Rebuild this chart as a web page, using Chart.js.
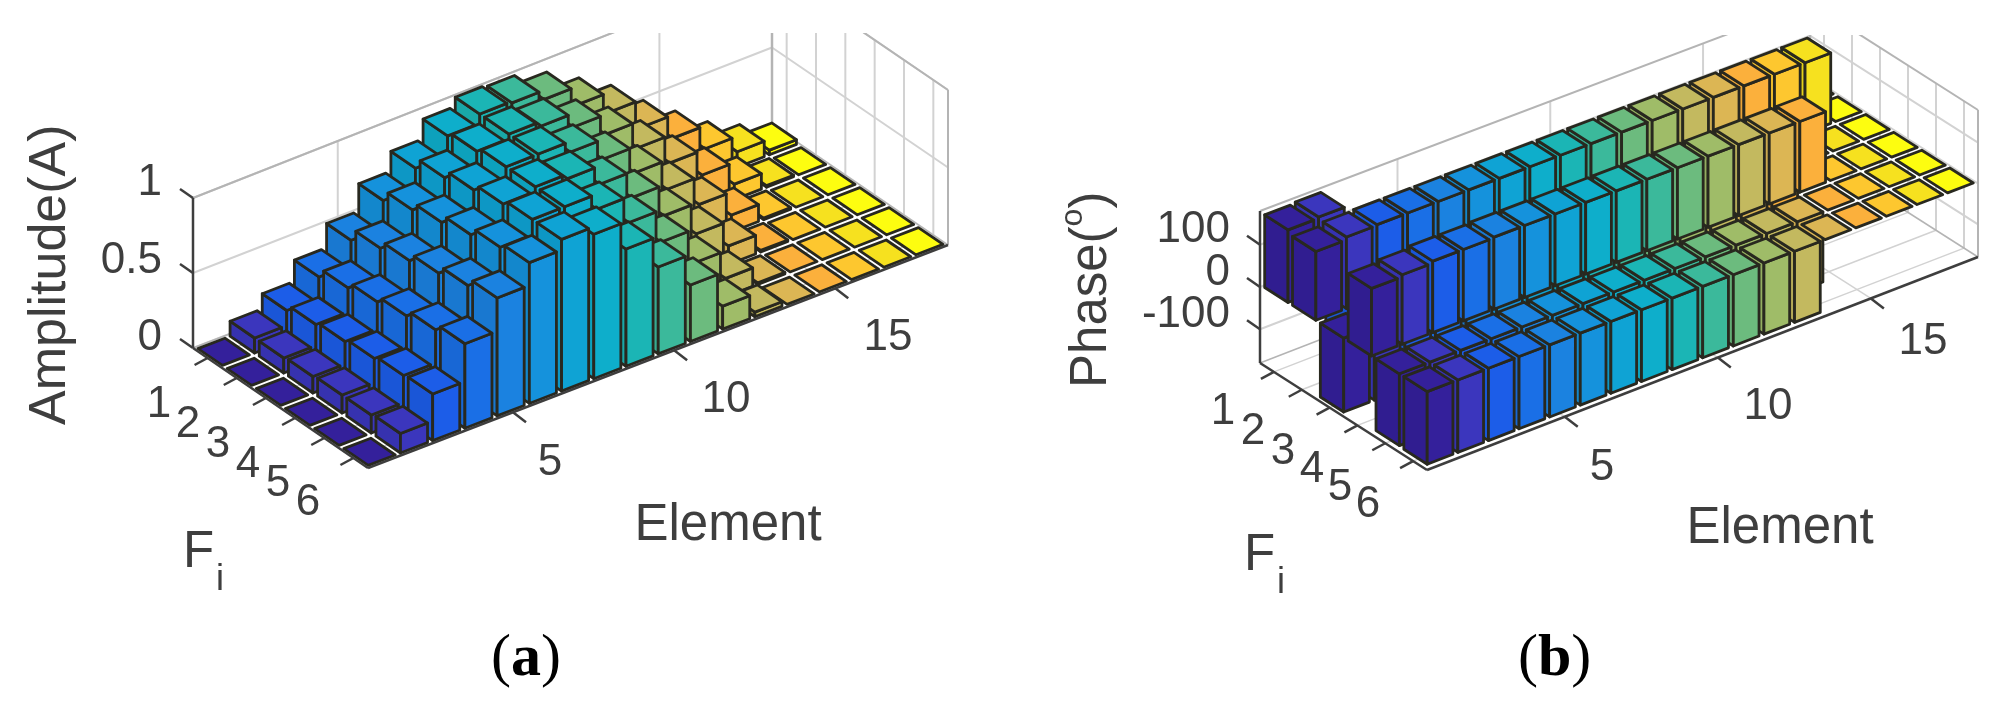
<!DOCTYPE html>
<html><head><meta charset="utf-8">
<script src="https://cdn.jsdelivr.net/npm/chart.js@4"></script>
<style>
html,body{margin:0;padding:0;background:#fff;width:2000px;height:710px;overflow:hidden}
canvas{position:absolute;top:0;filter:blur(.45px)}
</style></head><body>
<canvas id="a" width="1000" height="710" style="left:0"></canvas>
<canvas id="b" width="1000" height="710" style="left:1000px"></canvas>
<script>
const elements=[1,2,3,4,5,6,7,8,9,10,11,12,13,14,15,16,17,18];
const fiRows=[1,2,3,4,5,6];
const elementTicks=[5,10,15];
const ampTicks=[0,0.5,1];
const phaseTicks=[-100,0,100];
const ampF1=[0,.10,.20,.34,.50,.68,.81,.94,1,.99,.93,.81,.68,.50,.35,.20,.10,.03];
const ampF2=[0,.10,.24,.40,.58,.75,.88,.97,1,.97,.88,.75,.58,.40,.24,.10,.01,0];
const ampF3=[0,.11,.26,.44,.63,.80,.93,1,1,.93,.80,.63,.44,.26,.11,.01,0,0];
const ampF4=[0,.12,.28,.48,.68,.85,.97,1,.97,.85,.68,.48,.28,.12,.01,0,0,0];
const ampF5=[0,.12,.30,.52,.73,.90,1,1,.90,.73,.52,.30,.12,.01,0,0,0,0];
const ampF6=[0,.13,.31,.56,.78,.93,1,.95,.77,.57,.37,.15,.03,0,0,0,0,0];
const phaseF1=[172,175,-170,-170,-170,-170,-170,-170,-170,-170,-170,-170,-170,-170,-170,-170,-170,0];
const phaseF2=[163,170,172,172,172,172,172,172,172,172,172,172,172,172,172,172,172,0];
const phaseF3=[-175,-175,-175,-175,-175,-175,-175,-175,-175,-175,-175,-175,-175,-175,-175,0,0,0];
const phaseF4=[160,165,170,170,172,172,172,172,172,172,172,172,172,172,172,0,0,0];
const phaseF5=[-170,-170,-170,-170,-170,-170,-170,-170,-170,-170,-170,-170,-170,-170,0,0,0,0];
const phaseF6=[-172,-172,-172,-172,-172,-172,-172,-172,-172,-172,-172,-172,-172,0,0,0,0,0];
const palette=['#34209b','#3b36bd','#1c5de8','#1a6fe6','#1b82e0','#1592dc','#0fa3d4','#0eaecb','#1bb5b5','#3bb99b','#6cbb7e','#9fbc68','#c3b95f','#dcb654','#fbb03c','#fdc72f','#f6e11f','#fdfd10'];

const INK='#3e3e3e', EDGE='#28281f', GRID='#d2d2d2', BOX='#b4b4b4';
const sans='"Liberation Sans"', serif='"Liberation Serif"';

function bars3d(opts){return {id:'bars3d',afterDatasetsDraw(chart){
  const c=chart.ctx,s=chart.scales,g=opts.geo,ox=opts.offset;
  const dx=v=>(s.x.getPixelForValue(v)-s.x.left)/s.x.width;
  const df=v=>(s.fi.bottom-s.fi.getPixelForValue(v))/s.fi.height;
  const dz=v=>(s.y.bottom-s.y.getPixelForValue(v))/s.y.height;
  const L=(a,b,t)=>a+(b-a)*t;
  const P=(e,f,z)=>{const u=dx(e),v=df(f),w=dz(z);
    const X=L(L(g.BL[0],g.BR[0],u),L(g.FL[0],g.FR[0],u),v);
    const Y=L(L(g.BL[1],g.BR[1],u),L(g.FL[1],g.FR[1],u),v);
    return [X-ox,Y-w*L(g.HL,g.HR,u)];};
  const line=(p,q,col,lw)=>{c.strokeStyle=col;c.lineWidth=lw;c.beginPath();c.moveTo(p[0],p[1]);c.lineTo(q[0],q[1]);c.stroke();};
  const poly=(pts,col,shade)=>{c.beginPath();pts.forEach((p,i)=>i?c.lineTo(p[0],p[1]):c.moveTo(p[0],p[1]));c.closePath();
    c.fillStyle=col;c.fill();
    if(shade){c.fillStyle='rgba(0,0,0,'+shade+')';c.fill();}
    c.strokeStyle=EDGE;c.lineWidth=2.8;c.lineJoin='round';c.stroke();};
  const zmin=s.y.min,zmax=s.y.max,e0=s.x.min,e1=s.x.max,f0=s.fi.min,f1=s.fi.max;

  c.save();c.beginPath();c.rect(0,g.clipTop,1000,710);c.clip();
  // walls and floor grid
  opts.zTicks.forEach(z=>{line(P(e0,f0,z),P(e1,f0,z),GRID,2);line(P(e1,f0,z),P(e1,f1,z),GRID,2);});
  opts.eTicks.forEach(e=>{line(P(e,f0,zmin),P(e,f0,zmax),GRID,2);line(P(e,f0,zmin),P(e,f1,zmin),GRID,1.5);});
  fiRows.forEach(f=>{line(P(e1,f,zmin),P(e1,f,zmax),GRID,2);line(P(e0,f,zmin),P(e1,f,zmin),GRID,1.5);});
  line(P(e0,f0,zmax),P(e1,f0,zmax),BOX,2);
  line(P(e1,f0,zmax),P(e1,f1,zmax),BOX,2);
  line(P(e1,f0,zmin),P(e1,f0,zmax),BOX,2.5);
  line(P(e1,f1,zmin),P(e1,f1,zmax),BOX,2);
  line(P(e0,f0,zmin),P(e1,f0,zmin),BOX,1.5);
  line(P(e1,f0,zmin),P(e1,f1,zmin),BOX,1.5);
  // bars, back row first, far elements first
  const w=.42;
  chart.data.datasets.forEach(ds=>{
    const f=ds.fi;
    [...ds.data].reverse().forEach(d=>{
      const e=d.x,hi=Math.max(d.y,0),lo=Math.min(d.y,0),col=palette[e-1];
      if(hi!==lo){
        poly([P(e-w,f-w,hi),P(e-w,f+w,hi),P(e-w,f+w,lo),P(e-w,f-w,lo)],col,.07);
        poly([P(e-w,f+w,hi),P(e+w,f+w,hi),P(e+w,f+w,lo),P(e-w,f+w,lo)],col,0);
      }
      poly([P(e-w,f-w,hi),P(e+w,f-w,hi),P(e+w,f+w,hi),P(e-w,f+w,hi)],col,0);
    });
  });
  c.restore();
  // dark axes and ticks
  line(P(e0,f0,zmin),P(e0,f0,zmax),INK,2.5);
  line(P(e0,f0,zmin),P(e0,f1,zmin),INK,2.5);
  line(P(e0,f1,zmin),P(e1,f1,zmin),INK,2.5);
  opts.zTicks.forEach(z=>{const p=P(e0,f0,z);line(p,[p[0]-13,p[1]-9],INK,2.5);});
  fiRows.forEach(f=>{const p=P(e0,f,zmin);line(p,[p[0]-13,p[1]+7],INK,2.5);});
  opts.eTicks.forEach(e=>{const p=P(e,f1,zmin);line(p,[p[0]+13,p[1]+10],INK,2.5);});
  // text
  c.fillStyle=INK;c.textBaseline='alphabetic';
  const txt=(t,x,y,font,al)=>{c.font=font;c.textAlign=al||'center';c.fillText(t,x-ox,y);};
  c.textBaseline='middle';
  opts.zTicks.forEach((z,i)=>txt(String(z),opts.zLabelX,opts.zLabelY[i],'44px '+sans,'right'));
  fiRows.forEach((f,i)=>txt(String(f),opts.fLabels[i][0],opts.fLabels[i][1],'44px '+sans));
  opts.eTicks.forEach((e,i)=>txt(String(e),opts.eLabels[i][0],opts.eLabels[i][1],'44px '+sans));
  c.textBaseline='alphabetic';
  txt('Element',opts.elementPos[0],opts.elementPos[1],'51px '+sans);
  txt('F',opts.fPos[0],opts.fPos[1],'51px '+sans,'left');
  txt('i',opts.fPos[0]+33,opts.fPos[1]+23,'36px '+sans,'left');
  // rotated z label
  c.save();c.translate(opts.zTitle.x-ox,opts.zTitle.y);c.rotate(-Math.PI/2);c.textAlign='left';
  let px=0;opts.zTitle.parts.forEach(p=>{c.font=p[1]+'px '+sans;c.fillText(p[0],px,p[2]);px+=c.measureText(p[0]).width;});
  c.restore();
  // panel caption
  c.fillStyle='#000';
  let cx=opts.caption.x-ox;
  [['(','60px '+serif],[opts.caption.t,'bold 60px '+serif],[')','60px '+serif]].forEach(p=>{c.font=p[1];c.textAlign='left';c.fillText(p[0],cx,opts.caption.y);cx+=c.measureText(p[0]).width;});
}};}

function make(id,rows,zMin,zMax,opts){
  new Chart(document.getElementById(id),{
    type:'scatter',
    data:{datasets:rows.map((r,i)=>({label:'F'+fiRows[i],fi:fiRows[i],data:elements.map((e,j)=>({x:e,y:r[j]})),pointRadius:0,showLine:false}))},
    options:{responsive:false,animation:false,events:[],
      layout:{padding:0},
      plugins:{legend:{display:false},tooltip:{enabled:false}},
      scales:{
        x:{type:'linear',min:.5,max:18.5,display:false},
        y:{type:'linear',min:zMin,max:zMax,display:false},
        fi:{type:'linear',axis:'y',min:.5,max:6.5,display:false}
      }},
    plugins:[bars3d(opts)]
  });
}
make('a',[ampF1,ampF2,ampF3,ampF4,ampF5,ampF6],0,1,{
  offset:0,zTicks:ampTicks,eTicks:elementTicks,
  geo:{BL:[193,348],BR:[772,125],FL:[368,468],FR:[948,245],HL:150,HR:155,clipTop:33},
  zLabelX:162,zLabelY:[338,261,183],
  fLabels:[[159,405],[188,425],[218,445],[248,465],[278,484],[308,503]],
  eLabels:[[550,463],[726,400],[888,338]],
  elementPos:[728,540],fPos:[183,567],
  zTitle:{x:65,y:425,parts:[['Amplitude(A)',52,0]]},
  caption:{x:491,y:675,t:'a'}
});
make('b',[phaseF1,phaseF2,phaseF3,phaseF4,phaseF5,phaseF6],-180,180,{
  offset:1000,zTicks:phaseTicks,eTicks:elementTicks,
  geo:{BL:[1260,363],BR:[1810,150],FL:[1427,470],FR:[1978,257],HL:152,HR:147,clipTop:35},
  zLabelX:1230,zLabelY:[315,273,230],
  fLabels:[[1223,412],[1253,432],[1283,452],[1312,470],[1340,488],[1368,505]],
  eLabels:[[1602,468],[1768,407],[1923,342]],
  elementPos:[1780,543],fPos:[1244,570],
  zTitle:{x:1106,y:388,parts:[['Phase(',51,0],['o',32,-24],[')',51,0]]},
  caption:{x:1518,y:675,t:'b'}
});
</script>
</body></html>
